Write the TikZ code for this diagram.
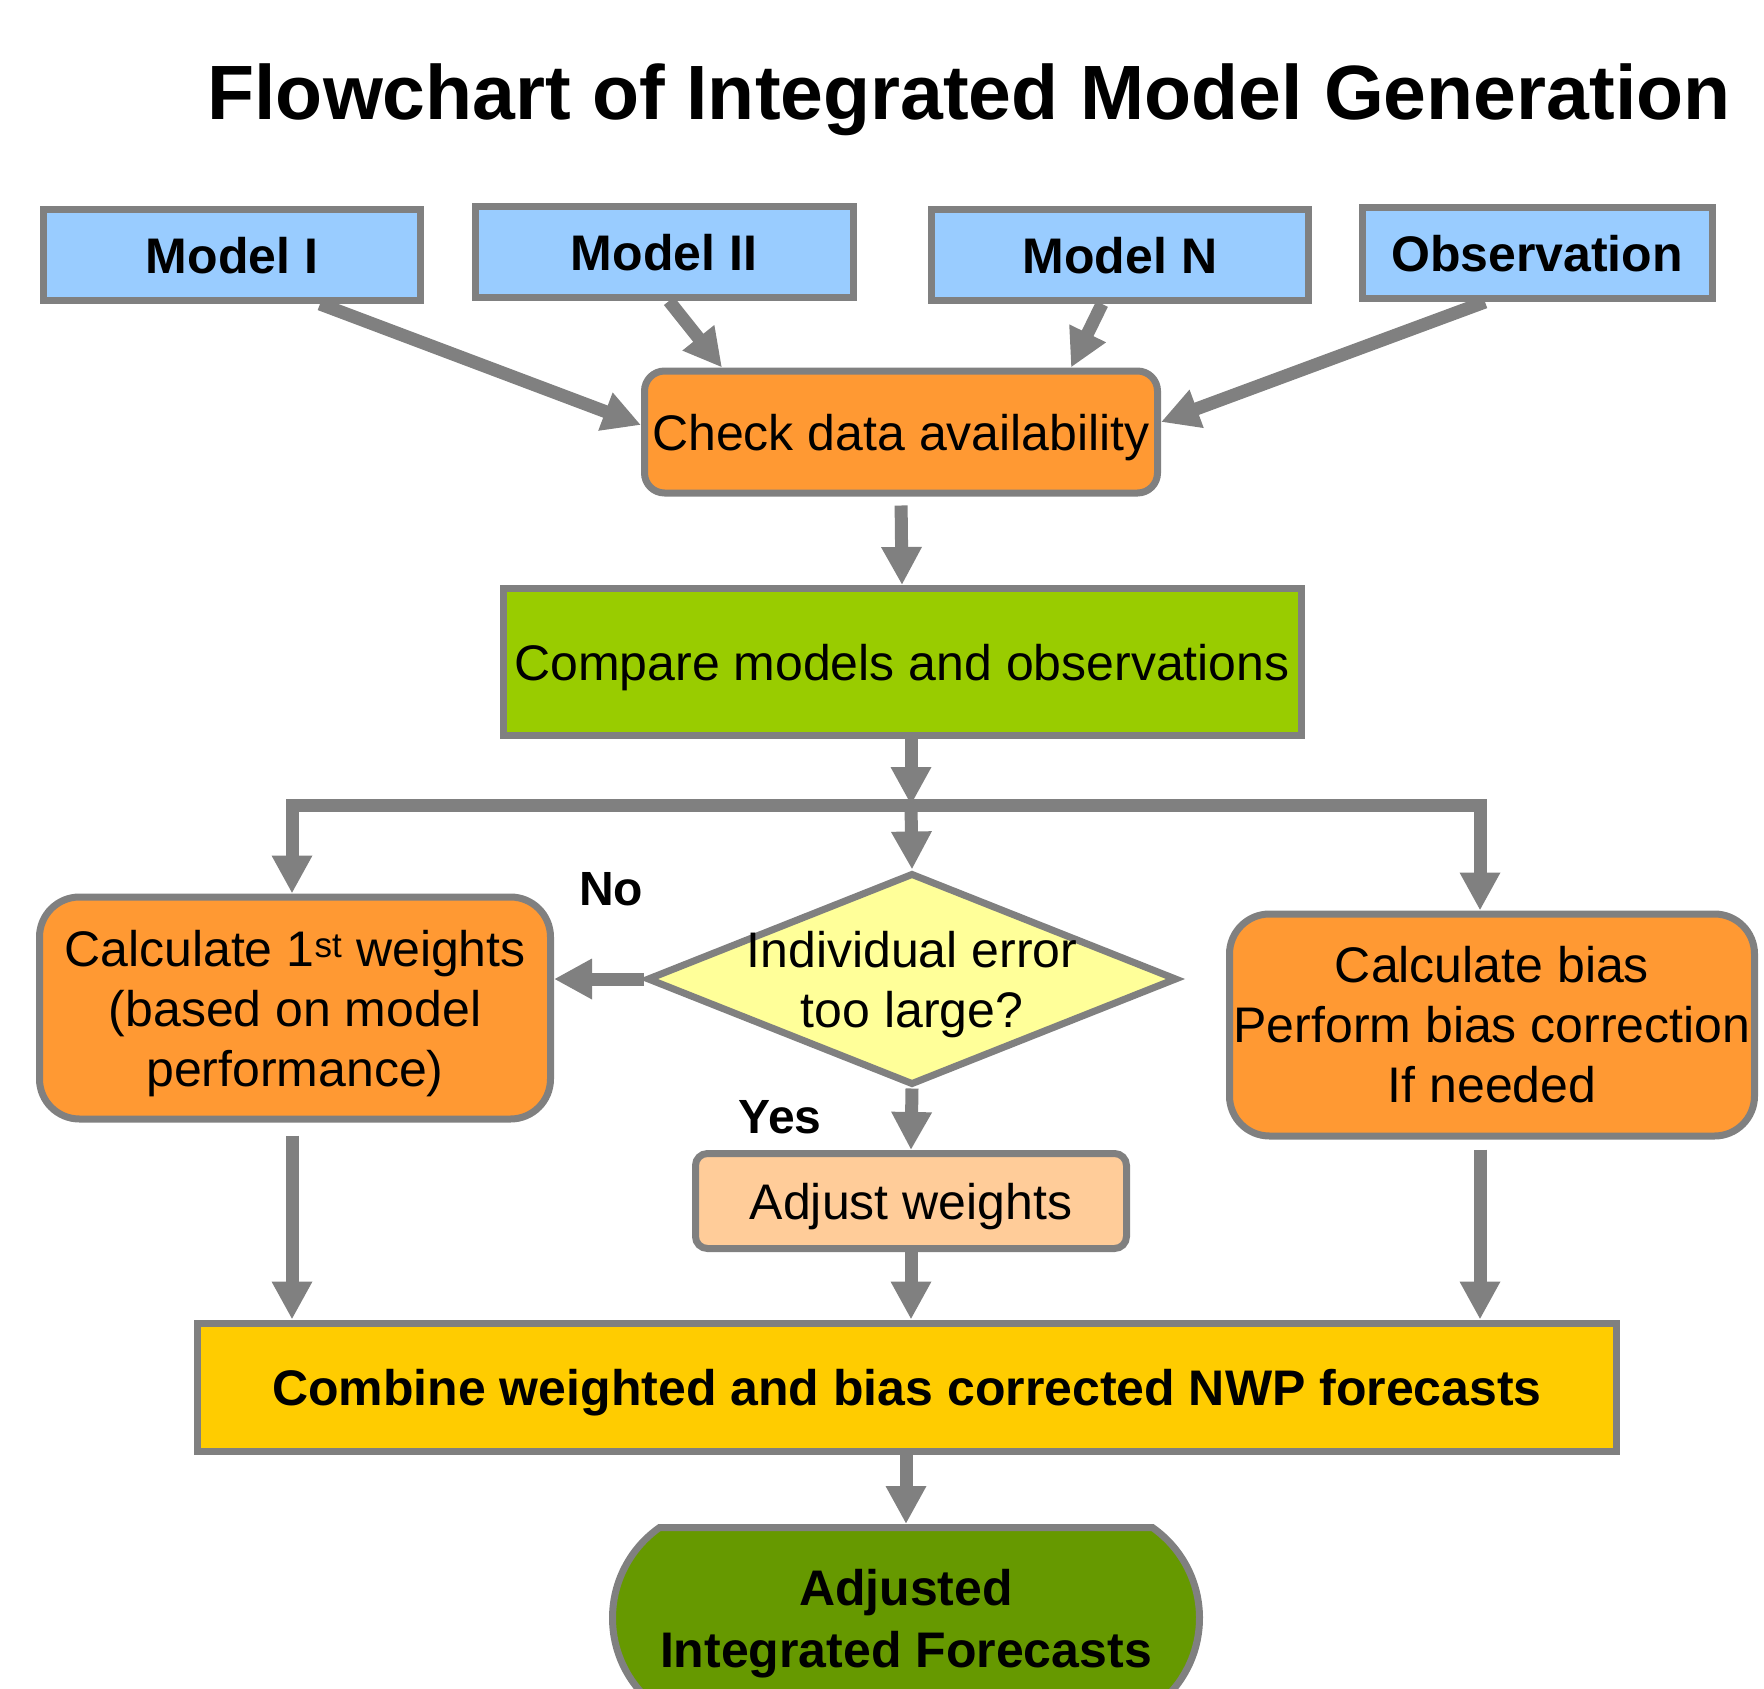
\documentclass[tikz,border=0pt]{standalone}
\usepackage{fontspec}
\setmainfont{Liberation Sans}
\usepackage{tikz}
\usetikzlibrary{arrows.meta,calc,shapes.geometric,shapes.misc}
\definecolor{flowgray}{HTML}{808080}
\definecolor{modelblue}{HTML}{99CCFF}
\definecolor{steporange}{HTML}{FF9933}
\definecolor{cmpgreen}{HTML}{99CC00}
\definecolor{erryellow}{HTML}{FFFF99}
\definecolor{adjpeach}{HTML}{FFCC99}
\definecolor{combgold}{HTML}{FFCC00}
\definecolor{finalgreen}{HTML}{669900}

\begin{document}
\begin{tikzpicture}[x=1pt,y=-1pt,every node/.style={font=\fontsize{50}{60}\selectfont,align=center,inner sep=0pt,text depth=0pt},inbox/.style={draw=flowgray,line width=7pt,fill=modelblue,rectangle,minimum height=91pt,font=\bfseries\fontsize{50}{60}\selectfont},stepbox/.style={draw=flowgray,line width=7pt,fill=#1,rectangle},arr/.style={draw=flowgray,line width=13pt,-{Triangle[length=38pt,width=38pt]}},lbl/.style={font=\bfseries\fontsize{48}{58}\selectfont}]
\path[use as bounding box] (0,0) rectangle (1764,1689);
\clip (0,0) rectangle (1764,1689);
\node[font=\bfseries\fontsize{77}{90}\selectfont] (title) at (969,92) {Flowchart of Integrated Model Generation};
\foreach \name/\x/\y/\w/\txt in %
{mI/232/255/377/Model I,mII/664/252/378/Model II,mN/1120/255/377/Model N,obs/1537/253/350/Observation} {
   \node[inbox,minimum width=\w pt] (\name) at (\x,\y) {\txt};
}
\node[stepbox=steporange,rounded corners=20pt,minimum width=513pt,minimum height=122pt] (chk) at (901,432) {Check data availability};
\node[stepbox=cmpgreen,minimum width=798pt,minimum height=147pt] (cmp) at (902,662) {Compare models and observations};
\coordinate (split) at (911,805);
\node[stepbox=steporange,rounded corners=40pt,minimum width=511pt,minimum height=222pt] (wt1) at (295,1008) {Calculate 1\textsuperscript{st} weights\\(based on model\\performance)};
\node[stepbox=erryellow,diamond,aspect=2.45,inner sep=-10pt,minimum width=530pt,minimum height=212pt,text depth=-12pt] (dec) at (912,979) {Individual error\\too large?};
\node[stepbox=steporange,rounded corners=40pt,minimum width=525pt,minimum height=222pt,text depth=] (bias) at (1492,1025) {Calculate bias\\Perform bias correction\\If needed};
\node[stepbox=adjpeach,rounded corners=12pt,minimum width=431pt,minimum height=95pt] (adj) at (911,1201) {Adjust weights};
\node[stepbox=combgold,minimum width=1419pt,minimum height=128pt,font=\bfseries\fontsize{50}{60}\selectfont] (comb) at (907,1387) {Combine weighted and bias corrected NWP forecasts};
\node[stepbox=finalgreen,rounded rectangle,rounded rectangle arc length=110,minimum width=587pt,minimum height=181pt,font=\bfseries\fontsize{50}{62}\selectfont] (fin) at (906,1618) {Adjusted\\Integrated Forecasts};
\node[lbl] (no) at (611,889) {No};
\node[lbl] (yes) at (780,1117) {Yes};
\draw[arr] ($(mI.south)+(88,0)$) -- ($(chk.west)+(0,-7)$);
\draw[arr] ($(mII.south)+(5,0)$) -- ($(chk.north west)+(81,0)$);
\draw[arr] ($(mN.south)+(-18,0)$) -- ($(chk.north east)+(-90,0)$);
\draw[arr] ($(obs.south)+(-52,0)$) -- ($(chk.east)+(0,-10)$);
\draw[arr,shorten <=9pt] (chk.south) -- (cmp.north);
\draw[arr] (cmp.south -| split) -- (split);
\draw[arr] (split) -| ($(wt1.north)+(-3,0)$);
\draw[arr] (split) -| ($(bias.north)+(-12,0)$);
\draw[arr] (split) -- (dec.north);
\draw[arr] (dec.west) -- (dec.west -| wt1.east);
\draw[arr] (dec.south) -- (adj.north);
\draw[arr,shorten <=13pt] ($(wt1.south)+(-3,0)$) -- ($(wt1.south |- comb.north)+(-3,0)$);
\draw[arr] (adj.south) -- (adj.south |- comb.north);
\draw[arr,shorten <=10pt] ($(bias.south)+(-12,0)$) -- ($(bias.south |- comb.north)+(-12,0)$);
\draw[arr] (comb.south -| fin.north) -- (fin.north);
\end{tikzpicture}
\end{document}
